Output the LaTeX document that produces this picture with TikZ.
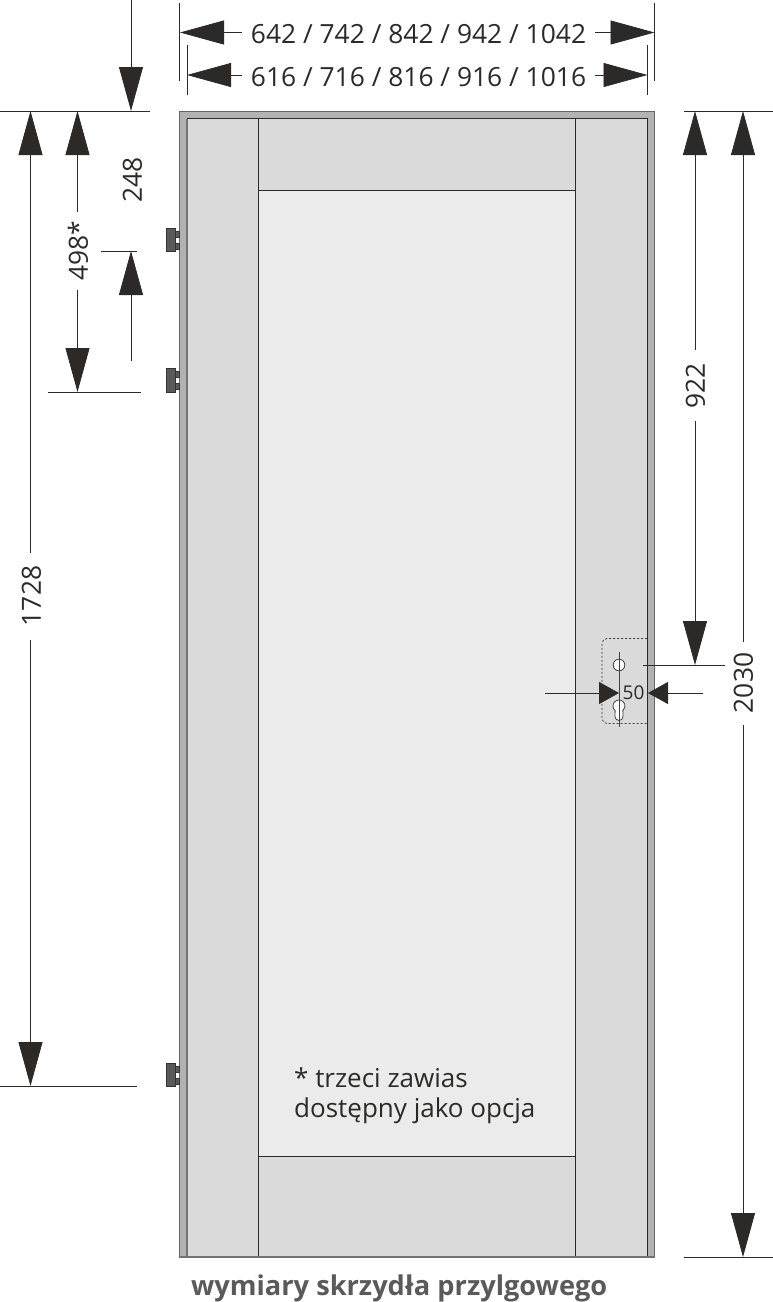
\documentclass[tikz,border=0pt]{standalone}
\usepackage{fontspec}
\setmainfont{Open Sans}
\usetikzlibrary{arrows.meta}
\definecolor{ink}{HTML}{2B2A29}
\definecolor{frameg}{HTML}{B2B2B2}
\definecolor{leafg}{HTML}{DADADA}
\definecolor{glassg}{HTML}{EBEBEB}
\definecolor{hingeg}{HTML}{5A5A5A}
\tikzset{
  x=1pt,y=-1pt,
  dimline/.style={draw=ink,line width=0.8pt},
  dimarrow/.style={dimline,-{Triangle[length=44pt,width=24pt,fill=ink]}},
  smallarrow/.style={dimline,-{Triangle[length=20pt,width=22pt,fill=ink]}},
  dimtext/.style={inner sep=0pt,text=ink,font=\fontsize{26.4}{26.4}\selectfont},
  vdimtext/.style={dimtext,rotate=90},
  notetext/.style={anchor=base west,inner sep=0pt,text=ink,font=\fontsize{26}{26}\selectfont},
  hingebody/.style={fill=hingeg,draw=ink!80!hingeg,line width=0.9pt},
  hingepin/.style={fill=hingeg,draw=ink!80!hingeg,line width=0.6pt},
  doorline/.style={draw=ink,line width=0.9pt},
  greyedge/.style={draw=black!55,line width=1.6pt},
  lockline/.style={draw=black!75,line width=0.8pt},
}
\begin{document}
\begin{tikzpicture}
\useasboundingbox (0,0) rectangle (773,1302);
% door
\fill[frameg] (179.5,111) rectangle (654.5,1257);
\draw[draw=black!60,line width=0.9pt] (179.5,1257) -- (179.5,111) -- (654.5,111) -- (654.5,1257);
\fill[leafg] (187,118.5) rectangle (647.5,1256);
\fill[glassg] (258.5,190) rectangle (575.5,1156.5);
\draw[greyedge] (187,118.5) -- (187,1256);
\draw[doorline] (187,118.5) -- (647.5,118.5) -- (647.5,1257);
\draw[doorline] (258.5,118.5) -- (258.5,1257);
\draw[doorline] (575.5,118.5) -- (575.5,1257);
\draw[doorline] (258.5,190) -- (575.5,190);
\draw[doorline] (258.5,1156.5) -- (575.5,1156.5);
\draw[draw=black!55,line width=1.3pt] (179,1257) -- (655,1257);
% hinges
\foreach \hy in {228,368.5,1063}{
  \filldraw[hingepin] (175,\hy+3) rectangle (179,\hy+9);
  \filldraw[hingepin] (175,\hy+15) rectangle (179,\hy+21);
  \filldraw[hingebody] (166.5,\hy) rectangle (175,\hy+23.5);
}
% lock
\draw[lockline,dash pattern=on 2pt off 2pt,rounded corners=5pt] (647,638.5) -- (602,638.5) -- (602,723.5) -- (647,723.5);
\filldraw[fill=white,lockline] (619,665) circle[radius=5.8];
\filldraw[fill=white,lockline] (615.14,710.6) arc[start angle=130,end angle=410,radius=6] -- (623,716.5) arc[start angle=0,end angle=180,radius=4] -- cycle;
\draw[lockline] (619,652) -- (619,727);
% coordinates
\coordinate (w1L) at (180,32.5);\coordinate (w1R) at (654.5,32.5);
\coordinate (w1La) at (242,32.5);\coordinate (w1Ra) at (595,32.5);
\coordinate (w2L) at (187,75);\coordinate (w2R) at (647.5,75);
\coordinate (w2La) at (242,75);\coordinate (w2Ra) at (595,75);
\coordinate (t1a) at (179.5,3);\coordinate (t1b) at (179.5,81);
\coordinate (t2a) at (654.5,3);\coordinate (t2b) at (654.5,81);
\coordinate (t3a) at (187,45);\coordinate (t3b) at (187,95);
\coordinate (t4a) at (647.5,45);\coordinate (t4b) at (647.5,95);
\coordinate (topLa) at (0,111);\coordinate (topLb) at (150,111);
\coordinate (topRa) at (684,111);\coordinate (topRb) at (773,111);
\coordinate (botRa) at (684,1257);\coordinate (botRb) at (773,1257);
\coordinate (h1a) at (101,251);\coordinate (h1b) at (137,251);
\coordinate (h2a) at (48,392);\coordinate (h2b) at (141,392);
\coordinate (h3a) at (0,1086);\coordinate (h3b) at (137,1086);
\coordinate (lka) at (643,665);\coordinate (lkb) at (725,665);
% ticks
\draw[dimline] (t1a) -- (t1b);
\draw[dimline] (t2a) -- (t2b);
\draw[dimline] (t3a) -- (t3b);
\draw[dimline] (t4a) -- (t4b);
\draw[dimline] (topLa) -- (topLb);
\draw[dimline] (topRa) -- (topRb);
\draw[dimline] (botRa) -- (botRb);
\draw[dimline] (h1a) -- (h1b);
\draw[dimline] (h2a) -- (h2b);
\draw[dimline] (h3a) -- (h3b);
\draw[dimline] (lka) -- (lkb);
% horizontal dims
\draw[dimarrow] (w1La) -- (w1L);
\draw[dimarrow] (w1Ra) -- (w1R);
\draw[dimarrow] (w2La) -- (w2L);
\draw[dimarrow] (w2Ra) -- (w2R);
\node[dimtext] (lw1) at (418.5,34.5) {642 / 742 / 842 / 942 / 1042};
\node[dimtext] (lw2) at (418.5,77) {616 / 716 / 816 / 916 / 1016};
% 248
\coordinate (a248t) at (131,0);\coordinate (a248e) at (131,111);
\coordinate (b248t) at (131,361);\coordinate (b248e) at (131,251);
\draw[dimarrow] (a248t) -- (a248e);
\draw[dimarrow] (b248t) -- (b248e);
\node[vdimtext] (l248) at (132.5,180) {248};
% 498
\coordinate (a498t) at (77.5,212);\coordinate (a498e) at (77.5,111);
\coordinate (b498t) at (77.5,290);\coordinate (b498e) at (77.5,392);
\draw[dimarrow] (a498t) -- (a498e);
\draw[dimarrow] (b498t) -- (b498e);
\node[vdimtext] (l498) at (78,251) {498*};
% 1728
\coordinate (a1728t) at (30.5,553);\coordinate (a1728e) at (30.5,111);
\coordinate (b1728t) at (30.5,640);\coordinate (b1728e) at (30.5,1086);
\draw[dimarrow] (a1728t) -- (a1728e);
\draw[dimarrow] (b1728t) -- (b1728e);
\node[vdimtext] (l1728) at (31.5,596) {1728};
% 922
\coordinate (a922t) at (695,350);\coordinate (a922e) at (695,111);
\coordinate (b922t) at (695,421);\coordinate (b922e) at (695,665);
\draw[dimarrow] (a922t) -- (a922e);
\draw[dimarrow] (b922t) -- (b922e);
\node[vdimtext] (l922) at (695.5,386) {922};
% 2030
\coordinate (a2030t) at (743,642);\coordinate (a2030e) at (743,111);
\coordinate (b2030t) at (743,725);\coordinate (b2030e) at (743,1257);
\draw[dimarrow] (a2030t) -- (a2030e);
\draw[dimarrow] (b2030t) -- (b2030e);
\node[vdimtext] (l2030) at (743.5,683) {2030};
% 50
\coordinate (a50t) at (545,693);\coordinate (a50e) at (619,693);
\coordinate (b50t) at (703,693);\coordinate (b50e) at (648,693);
\draw[smallarrow] (a50t) -- (a50e);
\draw[smallarrow] (b50t) -- (b50e);
\node[inner sep=0pt,text=ink,font=\fontsize{19}{19}\selectfont] (l50) at (633.5,692.5) {50};
% texts
\node[notetext] (note1) at (294,1087) {* trzeci zawias};
\node[notetext] (note2) at (294,1117) {dostępny jako opcja};
\node[anchor=base west,inner sep=0pt,text=hingeg,font=\fontsize{27.2}{27.2}\selectfont\bfseries] (title) at (191,1295) {wymiary skrzydła przylgowego};
\end{tikzpicture}
\end{document}
